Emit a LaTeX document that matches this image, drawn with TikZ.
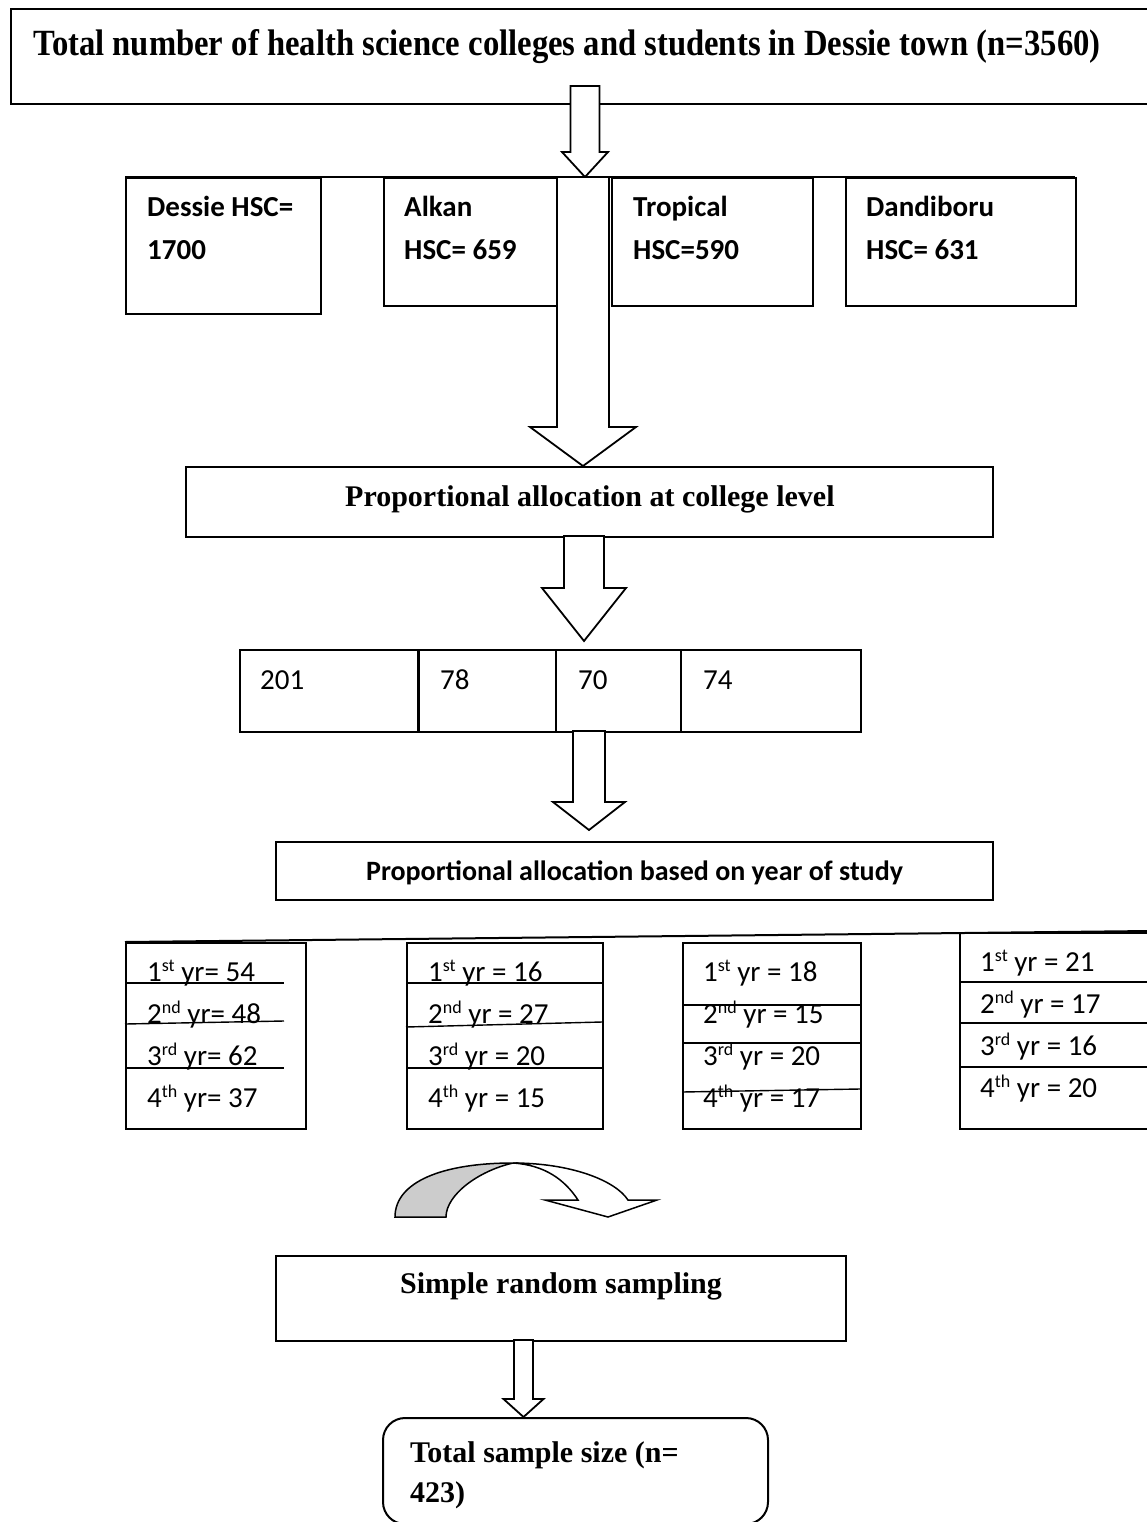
\documentclass[tikz,border=0pt]{standalone}
\usepackage{fontspec}
\setmainfont{Liberation Serif}
\newfontfamily\calfont{Carlito}
\usetikzlibrary{calc}
\tikzset{
  box/.style={draw, line width=2pt, inner sep=0pt, anchor=north west},
  lbl/.style={inner sep=0pt, anchor=base west, font=\calfont\fontsize{29}{29}\selectfont},
  lblb/.style={inner sep=0pt, anchor=base west, font=\calfont\bfseries\fontsize{29}{29}\selectfont},
  ser/.style={inner sep=0pt, anchor=base west, font=\bfseries\fontsize{30}{30}\selectfont},
  blk/.style={draw, line width=1.8pt, fill=white, line join=miter},
  rule/.style={line width=2pt},
}
\newcommand\sups[1]{\raisebox{0.33em}{\fontsize{18}{18}\selectfont #1}}
\newcommand\bx[5]{\node[box, minimum width={(#4)-(#2)}, minimum height={(#5)-(#3)}] (#1) at (#2,#3) {};}
\newcommand\blockarrow[5]{%
  \coordinate (ba-s) at (#1 -| #2);
  \draw[blk] ($(ba-s)+(-#3,0)$) -- ($(#2)+(-#3,-#5)$) -- ($(#2)+(-#4,-#5)$) -- (#2)
    -- ($(#2)+(#4,-#5)$) -- ($(#2)+(#3,-#5)$) -- ($(ba-s)+(#3,0)$) -- cycle;}
\begin{document}
\begin{tikzpicture}[x=1pt, y=-1pt]
\useasboundingbox (0,0) rectangle (1146,1522);
\fill[white] (0,0) rectangle (1146,1522);

% title box
\bx{top}{10}{8}{1160}{103}
\node[ser, font=\bfseries\fontsize{33}{33}\selectfont] (ttl) at (33,56) {\scalebox{0.99}[1.12]{Total number of health science colleges and students in Dessie town (n=3560)}};

% arrow 1
\coordinate (a1s) at (585,86);
\coordinate (a1e) at (585,177);
\blockarrow{a1s}{a1e}{14.5}{23}{25}

% college row
\coordinate (a2s) at (583,177);
\coordinate (a2e) at (583,466);
\blockarrow{a2s}{a2e}{26}{53}{39}
\draw[rule] (125,177) -- (1075,177);
\bx{dessie}{125}{177}{320}{313}
\bx{alkan}{383}{177}{556}{305}
\bx{tropical}{611}{177}{812}{305}
\bx{dandi}{845}{177}{1075}{305}
\node[lblb] (t-d1) at (147,217) {Dessie HSC=};
\node[lblb] (t-d2) at (147,259) {1700};
\node[lblb] (t-a1) at (404,217) {Alkan};
\node[lblb] (t-a2) at (404,259) {HSC= 659};
\node[lblb] (t-t1) at (633,217) {Tropical};
\node[lblb] (t-t2) at (633,259) {HSC=590};
\node[lblb] (t-n1) at (866,217) {Dandiboru};
\node[lblb] (t-n2) at (866,259) {HSC= 631};

% allocation at college level
\bx{alloc1}{185}{466}{992}{536}
\node[ser] (t-alloc1) at (345,506) {Proportional allocation at college level};
\coordinate (a3s) at (584,536);
\coordinate (a3e) at (584,641);
\blockarrow{a3s}{a3e}{20}{42}{53}

% numbers row
\bx{nums}{239}{649}{860}{731}
\draw[line width=3pt] (418,649) -- (418,731);
\draw[rule] (556,649) -- (556,731);
\draw[rule] (681,649) -- (681,731);
\node[lbl] (n201) at (260,689) {201};
\node[lbl] (n78) at (440,689) {78};
\node[lbl] (n70) at (578,689) {70};
\node[lbl] (n74) at (703,689) {74};
\coordinate (a4s) at (589,731);
\coordinate (a4e) at (589,830);
\blockarrow{a4s}{a4e}{16}{36}{28}

% allocation by year
\bx{alloc2}{275}{841}{992}{899}
\node[lblb, anchor=base, font=\calfont\bfseries\fontsize{28}{28}\selectfont] (t-alloc2) at (alloc2.center |- 0,880) {Proportional allocation based on year of study};

% year boxes
\draw[rule] (125,942) -- (1150,931);
\bx{y1}{125}{942}{305}{1128}
\bx{y2}{406}{942}{602}{1128}
\bx{y3}{682}{942}{860}{1128}
\bx{y4}{959}{932}{1160}{1128}
\draw[rule] (125,983) -- (284,983);
\draw[line width=1.4pt] (125,1024) -- (284,1021);
\draw[rule] (125,1068) -- (284,1068);
\draw[rule] (406,983) -- (602,983);
\draw[line width=1.4pt] (406,1027) -- (602,1022);
\draw[rule] (406,1068) -- (602,1068);
\draw[line width=1.4pt] (682,1005) -- (860,1005);
\draw[rule] (682,1043) -- (860,1043);
\draw[line width=1.4pt] (682,1092) -- (860,1089);
\draw[rule] (959,982) -- (1150,982);
\draw[rule] (959,1023) -- (1150,1023);
\draw[rule] (959,1067) -- (1150,1067);

\node[lbl] (y1a) at (147,981) {1\sups{st} yr= 54};
\node[lbl] (y1b) at (147,1023) {2\sups{nd} yr= 48};
\node[lbl] (y1c) at (147,1065) {3\sups{rd} yr= 62};
\node[lbl] (y1d) at (147,1107) {4\sups{th} yr= 37};
\node[lbl] (y2a) at (428,981) {1\sups{st} yr = 16};
\node[lbl] (y2b) at (428,1023) {2\sups{nd} yr = 27};
\node[lbl] (y2c) at (428,1065) {3\sups{rd} yr = 20};
\node[lbl] (y2d) at (428,1107) {4\sups{th} yr = 15};
\node[lbl] (y3a) at (703,981) {1\sups{st} yr = 18};
\node[lbl] (y3b) at (703,1023) {2\sups{nd} yr = 15};
\node[lbl] (y3c) at (703,1065) {3\sups{rd} yr = 20};
\node[lbl] (y3d) at (703,1107) {4\sups{th} yr = 17};
\node[lbl] (y4a) at (980,971) {1\sups{st} yr = 21};
\node[lbl] (y4b) at (980,1013) {2\sups{nd} yr = 17};
\node[lbl] (y4c) at (980,1055) {3\sups{rd} yr = 16};
\node[lbl] (y4d) at (980,1097) {4\sups{th} yr = 20};

% curved arrow
\draw[line width=1.5pt, fill=white, line join=miter] (513,1163) .. controls (570,1163) and (615,1180) .. (628,1200)
  -- (657,1200) -- (608,1217) -- (545,1200) -- (578,1200)
  .. controls (565,1180) and (545,1165) .. (513,1163) -- cycle;
\draw[line width=1.5pt, fill=black!20] (395,1217) .. controls (395,1182) and (442,1163) .. (513,1163)
  .. controls (478,1171) and (446,1195) .. (446,1217) -- cycle;

% simple random sampling
\bx{srs}{275}{1255}{845}{1340}
\node[ser] (t-srs) at (400,1293) {Simple random sampling};
\coordinate (a5s) at (523.5,1340);
\coordinate (a5e) at (523.5,1417);
\blockarrow{a5s}{a5e}{9.5}{20}{18}

% total sample size
\node[box, rounded corners=22pt, minimum width=385, minimum height=106] (total) at (382,1417) {};
\node[ser] (t-tot1) at (410,1462) {Total sample size (n=};
\node[ser] (t-tot2) at (410,1502) {423)};
\end{tikzpicture}
\end{document}
